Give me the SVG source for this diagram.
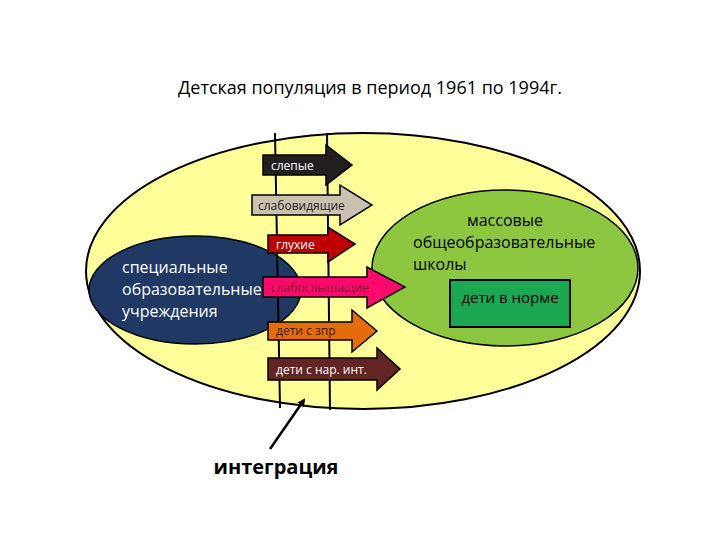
<svg xmlns="http://www.w3.org/2000/svg" width="720" height="540" viewBox="0 0 720 540">
<style>
text{font-family:"Open Sans","DejaVu Sans",sans-serif}
.al{font-size:12px;fill:#fff}
.ar{stroke:#000;stroke-width:1.5}
.big{font-size:16px;fill:#fff}
.ln{stroke:#000;stroke-width:2;fill:none}
</style>
<defs><marker id="ah" markerWidth="8" markerHeight="8" refX="6" refY="4" orient="auto" markerUnits="userSpaceOnUse" viewBox="0 0 8 8"><path d="M0,0L8,4L0,8z" fill="#000"/></marker></defs>
<rect width="720" height="540" fill="#fff"/>
<text x="370" y="94" text-anchor="middle" font-size="18" fill="#000">Детская популяция в период 1961 по 1994г.</text>
<g id="population"><ellipse cx="363" cy="271" rx="277" ry="138" fill="#ffff99" stroke="#000" stroke-width="2"/></g>
<g id="special"><ellipse cx="195" cy="290" rx="106" ry="54" fill="#1f3864" stroke="#000" stroke-width="1.5"/>
<text class="big"><tspan x="122" y="273">специальные</tspan><tspan x="122" y="295">образовательные</tspan><tspan x="122" y="317">учреждения</tspan></text></g>
<g id="mass"><ellipse cx="505" cy="268" rx="133" ry="78" fill="#8dc63f" stroke="#000" stroke-width="1.5"/>
<text font-size="16" fill="#000"><tspan x="505" y="226" text-anchor="middle">массовые</tspan><tspan x="413" y="248">общеобразовательные</tspan><tspan x="413" y="270">школы</tspan></text></g>
<g id="norm"><rect x="450" y="280" width="120" height="47" fill="#1aa852" stroke="#000" stroke-width="2"/><text x="510" y="303" text-anchor="middle" font-size="15" fill="#000">дети в норме</text></g>
<g id="connectors">
<line class="ln" x1="275" y1="133" x2="280" y2="408"/>
<line class="ln" x1="327" y1="133" x2="330" y2="410"/>
<line x1="270" y1="449" x2="304" y2="400" stroke="#000" stroke-width="2.5" marker-end="url(#ah)"/>
</g>
<g id="a1"><path class="ar" d="M263,155H326V145L352,165L326,185V175H263z" fill="#231f20"/><text class="al" x="271" y="170">слепые</text></g>
<g id="a2"><path class="ar" d="M252,195H340V185L372,205L340,225V215H252z" fill="#c9c2b0"/><text class="al" x="258" y="210" fill="#222" style="fill:#222">слабовидящие</text></g>
<g id="a3"><path class="ar" d="M268,235H328V227L355,244L328,262V253H268z" fill="#c00000"/><text class="al" x="276" y="249">глухие</text></g>
<g id="a4"><path class="ar" d="M263,277H367V267L405,287L367,308V297H263z" fill="#ff0a6c"/><text class="al" x="271" y="292" style="fill:#7a1030">слабослышащие</text></g>
<g id="a5"><path class="ar" d="M268,322H352V310L377,331L352,352V340H268z" fill="#e46c0a"/><text class="al" x="276" y="335" style="fill:#3a1a00">дети с зпр</text></g>
<g id="a6"><path class="ar" d="M268,358H377V348L400,369L377,390V380H268z" fill="#632523"/><text class="al" x="276" y="374">дети с нар. инт.</text></g>
<g id="integ"><text x="276" y="474" text-anchor="middle" font-size="20" font-weight="bold" fill="#000">интеграция</text></g>
</svg>
